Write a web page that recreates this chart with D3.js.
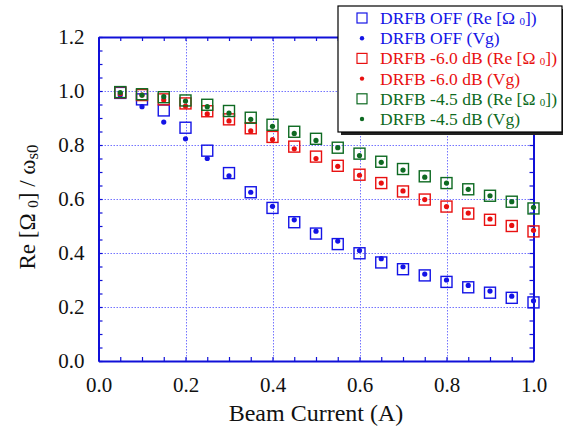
<!DOCTYPE html>
<html>
<head>
<meta charset="utf-8">
<script src="https://cdn.jsdelivr.net/npm/d3@7"></script>
<style>
  body { margin: 0; background: #fff; }
  svg { font-family: "Liberation Serif", "Times New Roman", serif; }
  .grid line { stroke: #7474ff; stroke-dasharray: 1.5,1.5; stroke-width: 1; }
  .frame path, .frame line { stroke: #1010d8; }
  .frame path { stroke-width: 2; }
  .frame line { stroke-width: 1.2; }
  .frame text { fill: #111; font-size: 21px; font-family: "Liberation Serif", serif; }
</style>
</head>
<body>
<div id="chart"></div>
<script>
  // beam current (A)
  var current = [0.05, 0.10, 0.15, 0.20, 0.25, 0.30, 0.35, 0.40, 0.45, 0.50,
                 0.55, 0.60, 0.65, 0.70, 0.75, 0.80, 0.85, 0.90, 0.95, 1.00];

  var offRe = [0.993, 0.969, 0.928, 0.864, 0.779, 0.696, 0.625, 0.567, 0.514, 0.472,
               0.433, 0.399, 0.365, 0.340, 0.317, 0.293, 0.273, 0.253, 0.234, 0.217];
  var offVg = [0.985, 0.942, 0.885, 0.823, 0.750, 0.686, 0.625, 0.573, 0.523, 0.481,
               0.444, 0.409, 0.379, 0.349, 0.322, 0.300, 0.280, 0.259, 0.240, 0.223];
  var m60Re = [0.995, 0.985, 0.969, 0.954, 0.925, 0.895, 0.862, 0.830, 0.794, 0.757,
               0.723, 0.690, 0.659, 0.628, 0.598, 0.572, 0.546, 0.523, 0.500, 0.480];
  var m60Vg = [0.990, 0.985, 0.967, 0.944, 0.915, 0.889, 0.852, 0.820, 0.786, 0.750,
               0.721, 0.688, 0.659, 0.630, 0.598, 0.572, 0.548, 0.526, 0.502, 0.484];
  var m45Re = [0.996, 0.988, 0.977, 0.965, 0.949, 0.926, 0.901, 0.875, 0.849, 0.823,
               0.790, 0.768, 0.738, 0.711, 0.684, 0.659, 0.636, 0.612, 0.590, 0.565];
  var m45Vg = [0.994, 0.985, 0.979, 0.963, 0.942, 0.918, 0.895, 0.869, 0.843, 0.817,
               0.790, 0.761, 0.736, 0.707, 0.681, 0.659, 0.636, 0.612, 0.590, 0.569];

  var xTicks = [0.0, 0.2, 0.4, 0.6, 0.8, 1.0];
  var yTicks = [0.0, 0.2, 0.4, 0.6, 0.8, 1.0, 1.2];
  var xGrid = [0.2, 0.4, 0.6, 0.8];
  var yGrid = [0.2, 0.4, 0.6, 0.8, 1.0];

  var series = [
    { name: "DRFB OFF", re: offRe, vg: offVg, color: "#1414e6" },
    { name: "DRFB -6.0 dB", re: m60Re, vg: m60Vg, color: "#e81010" },
    { name: "DRFB -4.5 dB", re: m45Re, vg: m45Vg, color: "#0e6a22" }
  ];

  var width = 563,
      height = 431,
      pLeft = 98.5, pRight = 533.5, pTop = 37, pBottom = 361;

  var svg = d3.select("#chart")
      .append("svg")
      .attr("width", width)
      .attr("height", height);

  var x = d3.scaleLinear().domain([0, 1]).range([pLeft, pRight]);
  var y = d3.scaleLinear().domain([0, 1.2]).range([pBottom, pTop]);

  var minor = d3.range(0, 21).map(function(i) { return i * 0.05; });
  var minorY = d3.range(0, 25).map(function(i) { return i * 0.05; });

  // dotted grid
  var grid = svg.append("g").attr("class", "grid");
  grid.selectAll(".gx")
      .data(xGrid)
    .enter().append("line")
      .attr("x1", function(d) { return Math.round(x(d)) + 0.5; })
      .attr("x2", function(d) { return Math.round(x(d)) + 0.5; })
      .attr("y1", pTop).attr("y2", pBottom);
  grid.selectAll(".gy")
      .data(yGrid)
    .enter().append("line")
      .attr("x1", pLeft).attr("x2", pRight)
      .attr("y1", function(d) { return Math.round(y(d)) + 0.5; })
      .attr("y2", function(d) { return Math.round(y(d)) + 0.5; });

  // frame with inward ticks
  svg.append("g").attr("class", "frame")
      .attr("transform", "translate(0," + pBottom + ")")
      .call(d3.axisBottom(x).tickValues(minor).tickSize(-4).tickSizeOuter(0).tickFormat(""));
  svg.append("g").attr("class", "frame")
      .attr("transform", "translate(0," + pTop + ")")
      .call(d3.axisTop(x).tickValues(minor).tickSize(-4).tickSizeOuter(0).tickFormat(""));
  svg.append("g").attr("class", "frame")
      .attr("transform", "translate(" + pLeft + ",0)")
      .call(d3.axisLeft(y).tickValues(minorY).tickSize(-4).tickSizeOuter(0).tickFormat(""));
  svg.append("g").attr("class", "frame")
      .attr("transform", "translate(" + pRight + ",0)")
      .call(d3.axisRight(y).tickValues(minorY).tickSize(-4).tickSizeOuter(0).tickFormat(""));

  // tick labels
  var xl = svg.append("g").attr("class", "frame")
      .attr("transform", "translate(0," + pBottom + ")")
      .call(d3.axisBottom(x).tickValues(xTicks).tickSize(0).tickPadding(16).tickFormat(d3.format(".1f")));
  xl.select(".domain").remove();
  var yl = svg.append("g").attr("class", "frame")
      .attr("transform", "translate(" + pLeft + ",0)")
      .call(d3.axisLeft(y).tickValues(yTicks).tickSize(0).tickPadding(14).tickFormat(d3.format(".1f")));
  yl.select(".domain").remove();
  svg.selectAll(".frame").attr("font-family", null).attr("font-size", null);

  // axis titles
  svg.append("text")
      .attr("x", 316).attr("y", 421)
      .attr("text-anchor", "middle")
      .attr("font-size", 24)
      .attr("fill", "#111")
      .text("Beam Current (A)");

  var yt = svg.append("text")
      .attr("transform", "translate(35,207) rotate(-90)")
      .attr("text-anchor", "middle")
      .attr("font-size", 23)
      .attr("fill", "#111");
  yt.append("tspan").text("Re [Ω ");
  yt.append("tspan").attr("font-size", 15).attr("dy", 3).text("0");
  yt.append("tspan").attr("dy", -3).text("] / ω");
  yt.append("tspan").attr("font-size", 17).attr("dy", 3).text("s0");

  // data marks
  var sq = 11;
  series.forEach(function(s) {
    var g = svg.append("g");
    g.selectAll("rect")
      .data(current)
    .enter().append("rect")
      .attr("x", function(d) { return x(d) - sq / 2; })
      .attr("y", function(d, i) { return y(s.re[i]) - sq / 2; })
      .attr("width", sq).attr("height", sq)
      .attr("fill", "none")
      .attr("stroke", s.color)
      .attr("stroke-width", 1.4);
    g.selectAll("circle")
      .data(current)
    .enter().append("circle")
      .attr("cx", function(d) { return x(d); })
      .attr("cy", function(d, i) { return y(s.vg[i]); })
      .attr("r", 2.6)
      .attr("fill", s.color);
  });

  // legend
  var lg = svg.append("g").attr("transform", "translate(338,6)");
  lg.append("rect")
      .attr("x", 3).attr("y", 3).attr("width", 224).attr("height", 126)
      .attr("fill", "#222");
  lg.append("rect")
      .attr("x", 0).attr("y", 0).attr("width", 224).attr("height", 126)
      .attr("fill", "#fff").attr("stroke", "#000").attr("stroke-width", 1.2);

  var rows = [];
  series.forEach(function(s) {
    rows.push({ s: s, kind: "re" });
    rows.push({ s: s, kind: "vg" });
  });
  rows.forEach(function(r, i) {
    var cy = 12 + i * 20.2;
    if (r.kind === "re") {
      lg.append("rect")
        .attr("x", 24 - 5).attr("y", cy - 5).attr("width", 10).attr("height", 10)
        .attr("fill", "none").attr("stroke", r.s.color).attr("stroke-width", 1.2);
    } else {
      lg.append("circle").attr("cx", 24).attr("cy", cy).attr("r", 2.2).attr("fill", r.s.color);
    }
    var t = lg.append("text")
        .attr("x", 42).attr("y", cy + 6)
        .attr("font-size", 17.5)
        .attr("fill", r.s.color);
    if (r.kind === "re") {
      t.append("tspan").text(r.s.name + " (Re [Ω ");
      t.append("tspan").attr("font-size", 11).attr("dy", 1).text("0");
      t.append("tspan").attr("dy", -1).text("])");
    } else {
      t.text(r.s.name + " (Vg)");
    }
  });
</script>
</body>
</html>
